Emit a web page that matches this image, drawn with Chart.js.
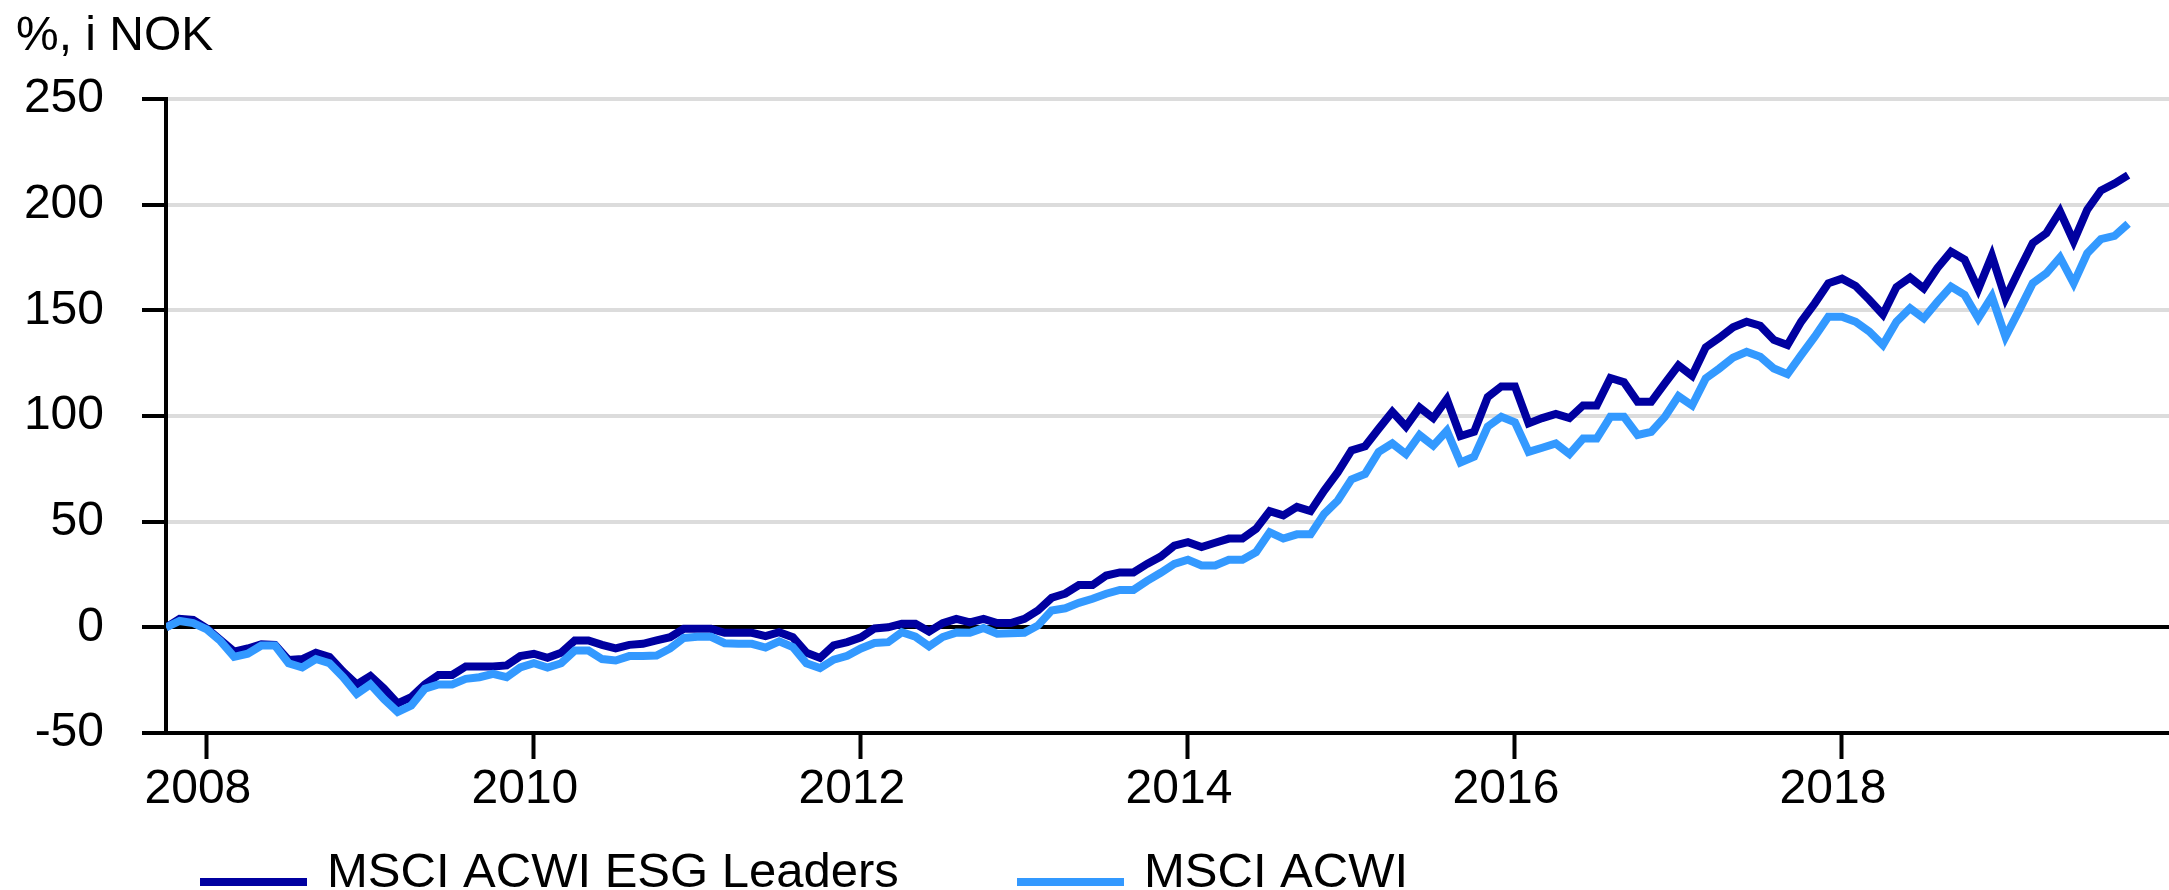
<!DOCTYPE html>
<html>
<head>
<meta charset="utf-8">
<script src="https://cdn.jsdelivr.net/npm/chart.js@4/dist/chart.umd.min.js"></script>
<style>
  html, body { margin: 0; padding: 0; background: #fff; overflow: hidden; }
  #wrap { width: 2169px; height: 890px; position: relative; }
</style>
</head>
<body>
<div id="wrap"><canvas id="chart"></canvas></div>
<script>
// monthly, starting 2007-10
const startYear = 2007
const startMonth = 10

const esgLeaders = [
  0, 4, 3.5, -0.5, -6, -11.5, -10, -8, -8.3, -15.5,
  -15, -12, -14, -21, -27, -23, -29, -36, -33, -27,
  -22.5, -22.5, -18.5, -18.5, -18.5, -18, -13.6, -12.5, -14.4, -12,
  -6.2, -6.2, -8.3, -10, -8.3, -7.8, -6.2, -4.7, -0.7, -0.7,
  -0.7, -2.6, -2.6, -2.6, -4.2, -2.3, -4.7, -12, -14.5, -8.5,
  -7, -4.7, -0.5, 0, 1.7, 1.7, -2, 2, 4, 2.4,
  4, 2, 2, 4, 8, 14, 16, 20, 20, 24.5,
  26, 26, 30, 33.5, 38.7, 40.3, 38, 40, 42, 42,
  46.6, 55, 53, 57, 55, 64.7, 73.4, 83.7, 85.7, 94,
  102, 95, 104, 99, 108, 90.5, 92.5, 109, 114, 114,
  96.5, 99, 101, 99, 105, 105, 118, 116, 106.7, 106.7,
  115.4, 124, 119, 132.5, 137, 142, 144.6, 142.7, 136, 133.6,
  144.6, 153.3, 162.8, 165, 161.5, 155, 148, 161, 165.5, 160.4,
  170, 177.8, 174, 160, 175.8, 155.7, 169, 181.8, 186.5, 196.8,
  182.6, 197.6, 206.7, 210, 214
]

const acwi = [
  0, 3, 2, -1, -6.5, -14, -12.5, -8.6, -8.6, -17,
  -19, -15, -17, -23.6, -31.5, -27, -34, -40, -37, -29,
  -27, -27, -24.4, -23.6, -22, -23.6, -19, -17, -19, -17,
  -11, -11, -15, -15.7, -13.6, -13.6, -13.3, -10, -5, -4.5,
  -4.5, -7.5, -7.8, -7.8, -9.6, -6.6, -9.3, -17, -19.3, -15.3,
  -13.5, -10, -7.4, -7, -2.3, -4.4, -9, -4.6, -2.5, -2.6,
  -0.3, -3, -2.8, -2.6, 0.9, 8, 9, 11.6, 13.5, 15.9,
  17.7, 17.7, 22, 25.8, 30, 32, 29.3, 29.3, 32, 32,
  35.6, 45, 42, 44, 44, 53.7, 60, 70, 72.6, 83,
  87, 82, 91, 86, 93, 78, 80.7, 95, 99.6, 97,
  83, 85, 87, 82, 89.3, 89.3, 99.6, 99.6, 91, 92.5,
  99.6, 109.4, 105, 117.8, 122.5, 127.6, 130.4, 128, 122.5, 119.8,
  128.8, 137.5, 147, 147, 144.6, 140, 133.6, 144.6, 151, 146.2,
  154, 161.2, 157.3, 146.2, 156.5, 137.5, 150, 162.8, 167.5, 175,
  162.8, 177, 183.7, 185.2, 191
]

const tickLabels = ['2008', '2010', '2012', '2014', '2016', '2018']
const yTicks = [-50, 0, 50, 100, 150, 200, 250]

const seriesNames = ['MSCI ACWI ESG Leaders', 'MSCI ACWI']
const colors = ['#0000a0', '#3399ff']

// month labels like 2007-10
const months = []
for (let i = 0; i < esgLeaders.length + 2; i++) {
  const m = startMonth - 1 + i
  const y = startYear + Math.floor(m / 12)
  months.push(y + '-' + String(m % 12 + 1).padStart(2, '0'))
}
const tickIndex = tickLabels.map(y => months.indexOf(y + '-01'))

const toPoints = arr => arr.map((v, i) => ({ x: i, y: v }))

const FONT = "'Liberation Sans', Arial, sans-serif"

const extras = {
  id: 'extras',
  afterDraw(chart) {
    const ctx = chart.ctx
    ctx.save()
    ctx.fillStyle = '#000'
    ctx.textBaseline = 'alphabetic'
    ctx.textAlign = 'left'
    ctx.font = '48px ' + FONT
    ctx.fillText('%, i NOK', 16, 50)

    // legend
    const items = [
      { x: 200, text: seriesNames[0], color: colors[0] },
      { x: 1017, text: seriesNames[1], color: colors[1] }
    ]
    ctx.font = '49px ' + FONT
    items.forEach(it => {
      ctx.strokeStyle = it.color
      ctx.lineWidth = 8
      ctx.beginPath()
      ctx.moveTo(it.x, 882)
      ctx.lineTo(it.x + 107, 882)
      ctx.stroke()
      ctx.fillStyle = '#000'
      ctx.fillText(it.text, it.x + 127, 887)
    })
    ctx.restore()
  }
}

new Chart(document.getElementById('chart'), {
  type: 'line',
  data: {
    datasets: [{
      label: seriesNames[0],
      data: toPoints(esgLeaders),
      borderColor: colors[0],
      backgroundColor: colors[0],
      borderWidth: 8,
      pointRadius: 0,
      tension: 0,
      order: 1
    }, {
      label: seriesNames[1],
      data: toPoints(acwi),
      borderColor: colors[1],
      backgroundColor: colors[1],
      borderWidth: 8,
      pointRadius: 0,
      tension: 0,
      order: 0
    }]
  },
  options: {
    responsive: true,
    maintainAspectRatio: false,
    animation: false,
    layout: { padding: { top: 99, right: 0, bottom: 0, left: 0 } },
    plugins: {
      legend: { display: false },
      tooltip: { enabled: false },
      title: { display: false }
    },
    scales: {
      x: {
        type: 'linear',
        min: 0,
        max: months.length,
        afterBuildTicks: axis => { axis.ticks = tickIndex.map(v => ({ value: v })) },
        afterFit: scale => { scale.height = 157 },
        ticks: {
          autoSkip: false,
          maxRotation: 0,
          padding: 2,
          labelOffset: -9,
          color: '#000',
          font: { family: FONT, size: 48 },
          callback: v => tickLabels[tickIndex.indexOf(v)]
        },
        grid: {
          drawOnChartArea: false,
          tickLength: 26,
          tickColor: '#000',
          tickWidth: 4
        },
        border: { color: '#000', width: 4 }
      },
      y: {
        min: -50,
        max: 250,
        afterBuildTicks: axis => { axis.ticks = yTicks.map(v => ({ value: v })) },
        afterFit: scale => { scale.width = 166 },
        ticks: {
          padding: 38,
          color: '#000',
          font: { family: FONT, size: 48 }
        },
        grid: {
          color: c => (c.tick && c.tick.value === 0) ? '#000' : '#dcdcdc',
          lineWidth: 4,
          tickLength: 24,
          tickColor: '#000',
          tickWidth: 4
        },
        border: { color: '#000', width: 4 }
      }
    }
  },
  plugins: [extras]
})
</script>
</body>
</html>
